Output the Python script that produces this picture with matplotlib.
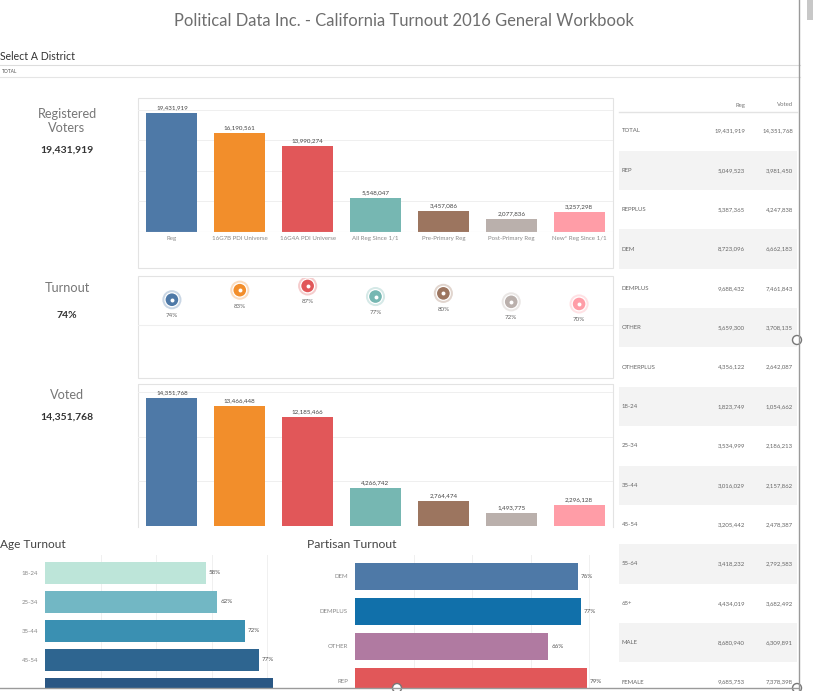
import matplotlib
matplotlib.use("Agg")
import matplotlib.pyplot as plt
from matplotlib.patches import Rectangle, Circle

plt.rcParams['font.family'] = ['Lato', 'DejaVu Sans']

# data
categories = ['Reg', '16G7B PDI Universe', '16G4A PDI Universe', 'All Reg Since 1/1',
              'Pre-Primary Reg', 'Post-Primary Reg', 'New* Reg Since 1/1']
registered = [19431919, 16190561, 13990274, 5548047, 3457086, 2077836, 3257298]
voted = [14351768, 13466448, 12185466, 4266742, 2764474, 1493775, 2296128]
turnout = [74, 83, 87, 77, 80, 72, 70]
cat_colors = ['#4E79A7', '#F28E2B', '#E15759', '#76B7B2', '#9C755F', '#BAB0AC', '#FF9DA7']

age_groups = ['18-24', '25-34', '35-44', '45-54', '55-64']
age_turnout = [58, 62, 72, 77, 82]
age_colors = ['#BDE5D9', '#72B7C4', '#3A90B2', '#2E6590', '#2A5784']

party_groups = ['DEM', 'DEMPLUS', 'OTHER', 'REP']
party_turnout = [76, 77, 66, 79]
party_colors = ['#4E79A7', '#1170AA', '#B07AA1', '#E15759']

table_rows = ['TOTAL', 'REP', 'REPPLUS', 'DEM', 'DEMPLUS', 'OTHER', 'OTHERPLUS',
              '18-24', '25-34', '35-44', '45-54', '55-64', '65+', 'MALE', 'FEMALE']
table_reg = [19431919, 5049523, 5387365, 8723096, 9688432, 5659300, 4356122,
             1823749, 3534999, 3016029, 3205442, 3418232, 4434019, 8680940, 9685753]
table_voted = [14351768, 3981450, 4247838, 6662183, 7461843, 3708135, 2642087,
               1054662, 2186213, 2157862, 2478387, 2792583, 3682492, 6309891, 7378398]

W, H = 813, 691
fig = plt.figure(figsize=(W / 100, H / 100), dpi=100)


def px_axes(x0, y0, x1, y1, z=1):
    return fig.add_axes([x0 / W, 1 - y1 / H, (x1 - x0) / W, (y1 - y0) / H], zorder=z)


def clean(ax):
    for s in ax.spines.values():
        s.set_visible(False)
    ax.tick_params(length=0)


# background / overlay in pixel coords
bg = px_axes(0, 0, W, H, z=0)
bg.set_xlim(0, W)
bg.set_ylim(H, 0)
bg.axis('off')

bg.text(404, 21, 'Political Data Inc. - California Turnout 2016 General Workbook',
        ha='center', va='center', fontsize=11.9, color='#6E6E6E')
bg.text(0, 56, 'Select A District', ha='left', va='center', fontsize=7.6, color='#333333')
bg.plot([0, 800], [65, 65], color='#DDDDDD', lw=0.8)
bg.text(2, 71, 'TOTAL', ha='left', va='center', fontsize=3.5, color='#555555')
bg.plot([0, 800], [77, 77], color='#E5E5E5', lw=0.8)

# KPI labels
bg.text(67, 121, 'Registered\nVoters', ha='center', va='center', fontsize=9.2,
        color='#777777', linespacing=1.25)
bg.text(67, 150, f'{registered[0]:,}', ha='center', va='center', fontsize=7.5,
        color='#333333', fontweight='bold')
bg.text(67, 288, 'Turnout', ha='center', va='center', fontsize=9.2, color='#777777')
bg.text(67, 315, f'{turnout[0]}%', ha='center', va='center', fontsize=7.5,
        color='#333333', fontweight='bold')
bg.text(67, 395, 'Voted', ha='center', va='center', fontsize=9.2, color='#777777')
bg.text(67, 417, f'{voted[0]:,}', ha='center', va='center', fontsize=7.5,
        color='#333333', fontweight='bold')

# panel boxes
for y0, y1 in [(98, 268), (276, 378)]:
    bg.add_patch(Rectangle((138, y0), 475, y1 - y0, fill=False, ec='#E3E3E3', lw=0.8))
bg.plot([138, 138, 613, 613], [527, 384, 384, 527], color='#E3E3E3', lw=0.8)

bg.text(0, 545, 'Age Turnout', ha='left', va='center', fontsize=8.6, color='#444444')
bg.text(307, 545, 'Partisan Turnout', ha='left', va='center', fontsize=8.7, color='#444444')

# registered bars
ax1 = px_axes(138, 98, 613, 232)
x = list(range(len(categories)))
ax1.bar(x, registered, width=0.75, color=cat_colors, zorder=2)
for xi, v in zip(x, registered):
    ax1.annotate(f'{v:,}', (xi, v), xytext=(0, 2), textcoords='offset points',
                 ha='center', va='bottom', fontsize=4.5, color='#444444')
ax1.set_xlim(-0.5, 6.5)
ax1.set_ylim(0, 21.9e6)
ax1.set_yticks([5e6, 10e6, 15e6, 20e6])
ax1.set_yticklabels([])
ax1.grid(axis='y', color='#EFEFEF', lw=0.7, zorder=0)
ax1.set_xticks(x)
ax1.set_xticklabels(categories, fontsize=4.4, color='#888888')
ax1.tick_params(axis='x', pad=3)
clean(ax1)
ax1.axhline(0, color='#E0E0E0', lw=0.8)
ax1.patch.set_alpha(0)

# turnout circles
ax2 = px_axes(138, 278, 613, 376)
ax2.scatter(x, turnout, s=190, color=cat_colors, alpha=0.3, lw=0, zorder=2)
ax2.scatter(x, turnout, s=100, color=cat_colors, lw=0.9, edgecolors='white', zorder=3)
ax2.scatter(x, turnout, s=8, color='white', lw=0, zorder=4)
for xi, t in zip(x, turnout):
    ax2.annotate(f'{t}%', (xi, t), xytext=(0, -11.5), textcoords='offset points',
                 ha='center', va='center', fontsize=4.5, color='#666666')
ax2.set_xlim(-0.5, 6.5)
ax2.set_ylim(2, 94.5)
ax2.set_xticks([])
ax2.set_yticks([50])
ax2.set_yticklabels([])
ax2.grid(axis='y', color='#EFEFEF', lw=0.8, zorder=0)
clean(ax2)
ax2.patch.set_alpha(0)

# voted bars
ax3 = px_axes(138, 384, 613, 526)
ax3.bar(x, voted, width=0.75, color=cat_colors, zorder=2)
for xi, v in zip(x, voted):
    ax3.annotate(f'{v:,}', (xi, v), xytext=(0, 2), textcoords='offset points',
                 ha='center', va='bottom', fontsize=4.5, color='#444444')
ax3.set_xlim(-0.5, 6.5)
ax3.set_ylim(0, 15.9e6)
ax3.set_yticks([5e6, 10e6, 15e6])
ax3.set_yticklabels([])
ax3.set_xticks([])
ax3.grid(axis='y', color='#EFEFEF', lw=0.7, zorder=0)
clean(ax3)
ax3.patch.set_alpha(0)

# age turnout
ax4 = px_axes(45, 555, 293, 688)
ya = list(range(len(age_groups)))
ax4.barh(ya, age_turnout, height=0.76, color=age_colors, zorder=2)
for yi, t in zip(ya, age_turnout):
    if yi < 3.6:
        ax4.annotate(f'{t}%', (t, yi), xytext=(2, 0), textcoords='offset points',
                     ha='left', va='center', fontsize=4.5, color='#555555')
ax4.set_xlim(0, 89.2)
ax4.set_ylim(3.97, -0.62)
ax4.set_yticks(ya[:4])
ax4.set_yticklabels(age_groups[:4], fontsize=4.4, color='#888888')
ax4.tick_params(axis='y', pad=5)
ax4.set_xticks([20, 40, 60, 80])
ax4.set_xticklabels([])
ax4.grid(axis='x', color='#F0F0F0', lw=0.7, zorder=0)
clean(ax4)
ax4.patch.set_alpha(0)

# partisan turnout
ax5 = px_axes(355, 555, 612, 688)
yp = list(range(len(party_groups)))
ax5.barh(yp, party_turnout, height=0.77, color=party_colors, zorder=2)
for yi, t in zip(yp, party_turnout):
    ax5.annotate(f'{t}%', (t, yi), xytext=(2, 0), textcoords='offset points',
                 ha='left', va='center', fontsize=4.5, color='#555555')
ax5.set_xlim(0, 87.7)
ax5.set_ylim(3.19, -0.61)
ax5.set_yticks(yp)
ax5.set_yticklabels(party_groups, fontsize=4.4, color='#888888')
ax5.tick_params(axis='y', pad=5)
ax5.set_xticks([20, 40, 60, 80])
ax5.set_xticklabels([])
ax5.grid(axis='x', color='#F0F0F0', lw=0.7, zorder=0)
clean(ax5)
ax5.patch.set_alpha(0)

# table
ax6 = px_axes(617, 88, 799, 691, z=1)
ax6.set_xlim(617, 799)
ax6.set_ylim(691, 88)
ax6.axis('off')
ax6.text(745, 105, 'Reg', ha='right', va='center', fontsize=4.3, color='#777777')
ax6.text(793, 105, 'Voted', ha='right', va='center', fontsize=4.3, color='#777777')
ax6.plot([619, 797], [112, 112], color='#E3E3E3', lw=1)
pitch = 39.36
for i, (name, r, v) in enumerate(zip(table_rows, table_reg, table_voted)):
    yc = 131 + i * pitch
    if i % 2 == 1:
        ax6.add_patch(Rectangle((619, yc - pitch / 2), 178, pitch, color='#F3F3F3', lw=0))
    ax6.text(622, yc, name, ha='left', va='center', fontsize=4.3, color='#666666')
    ax6.text(745, yc, f'{r:,}', ha='right', va='center', fontsize=4.3, color='#666666')
    ax6.text(793, yc, f'{v:,}', ha='right', va='center', fontsize=4.3, color='#666666')

# frame / handles overlay
top = px_axes(0, 0, W, H, z=10)
top.set_xlim(0, W)
top.set_ylim(H, 0)
top.axis('off')
top.plot([799, 799], [0, 691], color='#9A9A9A', lw=1)
top.plot([0, 799], [688, 688], color='#9A9A9A', lw=1)
top.add_patch(Rectangle((807, 0), 6, 20, color='#C8C8C8', lw=0))
for cx, cy in [(797, 340), (397, 688), (797, 688)]:
    top.add_patch(Circle((cx, cy), 4.5, fc='white', ec='#777777', lw=1))

fig.savefig('out.png', dpi=100)
